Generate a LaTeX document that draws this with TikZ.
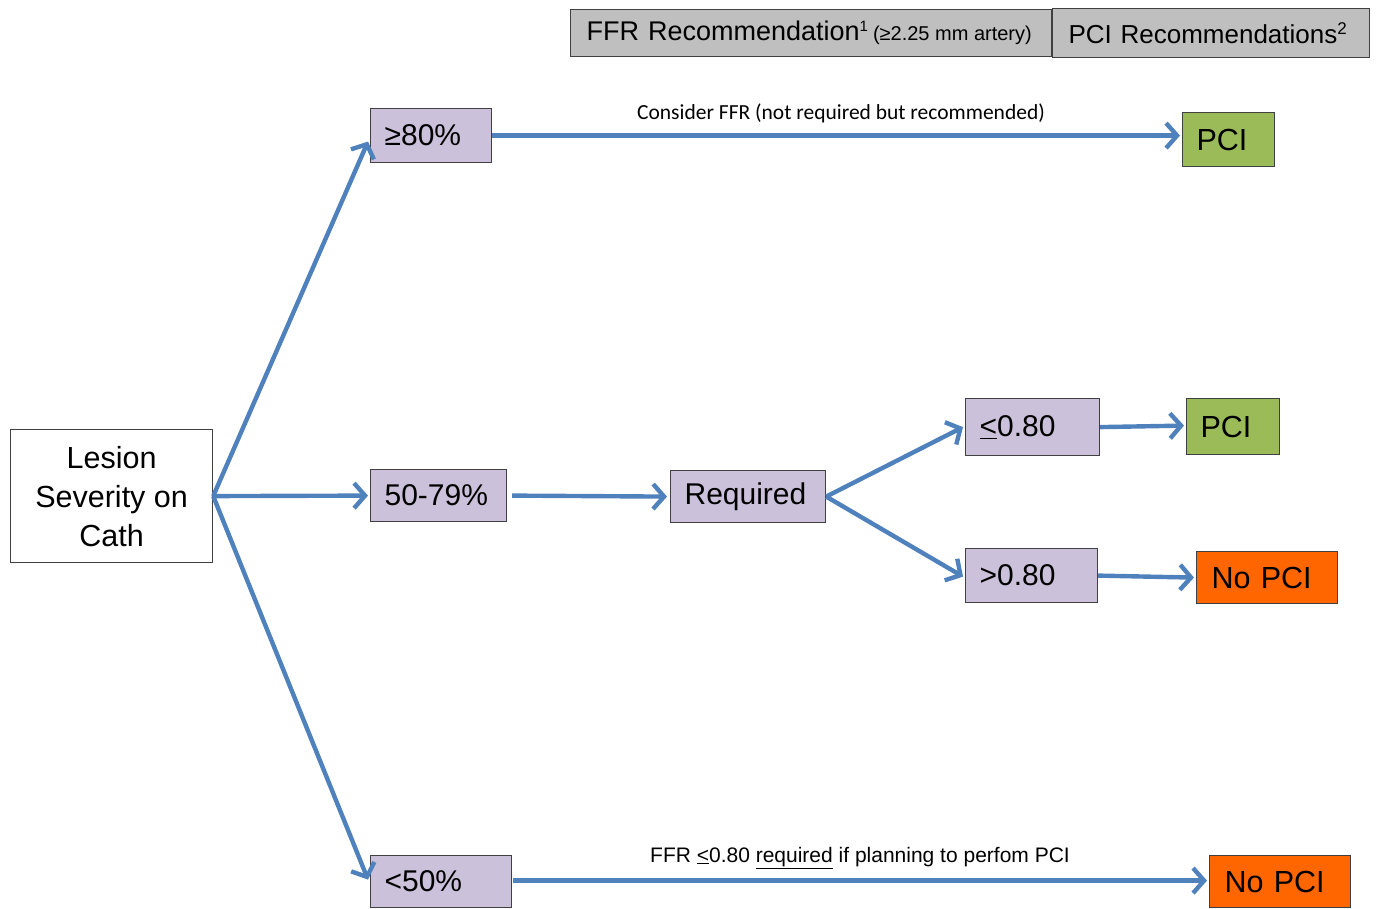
\documentclass[tikz,border=0pt]{standalone}
\usepackage{fontspec}
\setmainfont{Liberation Sans}
\newfontfamily\calfont{Carlito}
\usetikzlibrary{arrows.meta}
\definecolor{lav}{HTML}{CCC1DA}
\definecolor{pgreen}{HTML}{9BBB59}
\definecolor{porange}{HTML}{FF6600}
\definecolor{hgray}{HTML}{BFBFBF}
\definecolor{ablue}{HTML}{4F81BD}
\definecolor{bord}{HTML}{404040}
\tikzset{
  bx/.style={draw=bord, line width=1.2pt, rectangle, inner ysep=0pt, inner xsep=14pt, align=left, anchor=north west, font=\fontsize{30}{34}\selectfont},
  lavbox/.style={bx, fill=lav},
  greenbox/.style={bx, fill=pgreen, font=\fontsize{30.5}{34}\selectfont},
  orangebox/.style={bx, fill=porange, font=\fontsize{30.5}{34}\selectfont},
  headbox/.style={bx, fill=hgray, inner xsep=16pt, font=\fontsize{27}{30}\selectfont},
  conn/.style={draw=ablue, line width=4.4pt, -{Straight Barb[length=11pt,width=25pt,line width=4.4pt]}},
}
\begin{document}
\begin{tikzpicture}[x=1pt,y=-1pt]
\useasboundingbox (0,0) rectangle (1378,909);
% header boxes
\node[headbox, text width=449pt, minimum height=47pt] (h1) at (570,9) {\mbox{FFR Recommendation\textsuperscript{\fontsize{15}{15}\selectfont 1}\,{\fontsize{20}{20}\selectfont\spaceskip=0pt\xspaceskip=0pt (≥2.25 mm artery)}}};
\node[headbox, text width=285pt, minimum height=49pt, font=\fontsize{26}{30}\selectfont] (h2) at (1052,8) {\mbox{PCI Recommendations\textsuperscript{\fontsize{17}{17}\selectfont 2}}};
% main boxes
\node[bx, fill=white, minimum width=202pt, inner xsep=0pt, minimum height=133pt, align=center, font=\fontsize{30.5}{39}\selectfont] (lesion) at (10,429) {Lesion\\Severity on\\Cath};
\node[lavbox, text width=93pt, minimum height=54pt] (p80) at (370,108) {≥80\%};
\node[lavbox, text width=108pt, minimum height=52pt] (p50) at (370,469) {50-79\%};
\node[lavbox, text width=113pt, minimum height=52pt] (plt) at (370,855) {<50\%};
\node[lavbox, text width=127pt, minimum height=52pt] (req) at (670,470) {Required};
\node[lavbox, text width=106pt, minimum height=57pt] (le) at (965,398) {\underline{<}0.80};
\node[lavbox, text width=104pt, minimum height=54pt] (gt) at (965,548) {>0.80};
\node[greenbox, text width=64pt, minimum height=54pt] (pci1) at (1182,112) {PCI};
\node[greenbox, text width=65pt, minimum height=56pt] (pci2) at (1186,398) {PCI};
\node[orangebox, minimum height=52pt, inner xsep=15pt, text width=111pt] (nopci1) at (1196,551) {No PCI};
\node[orangebox, minimum height=52pt, inner xsep=15pt, text width=111pt] (nopci2) at (1209,855) {No PCI};
% connectors
\draw[conn] (lesion.east) -- ([xshift=-2pt,yshift=-6pt]p80.west);
\draw[conn] (lesion.east) -- ([xshift=-2pt]p50.west);
\draw[conn] (lesion.east) -- ([xshift=-2pt,yshift=2pt]plt.west);
\draw[conn] (p80.east) -- ([xshift=-2pt,yshift=4pt]pci1.west);
\draw[conn] ([xshift=5pt]p50.east) -- ([xshift=-3pt]req.west);
\draw[conn] (req.east) -- ([xshift=-2pt]le.west);
\draw[conn] (req.east) -- ([xshift=-2pt,yshift=-1pt]gt.west);
\draw[conn] (le.east) -- ([xshift=-2pt,yshift=1pt]pci2.west);
\draw[conn] (gt.east) -- ([xshift=-2pt]nopci1.west);
\draw[conn] ([xshift=1pt,yshift=1pt]plt.east) -- ([xshift=-2pt,yshift=1pt]nopci2.west);
% labels
\node[font=\calfont\fontsize{21.5}{24}\selectfont, anchor=base] (lab1) at (841,120) {Consider FFR (not required but recommended)};
\node[font=\fontsize{21}{24}\selectfont, anchor=base] (lab2) at (860,862) {FFR \underline{<}0.80 \underline{required} if planning to perfom PCI};
\end{tikzpicture}
\end{document}
